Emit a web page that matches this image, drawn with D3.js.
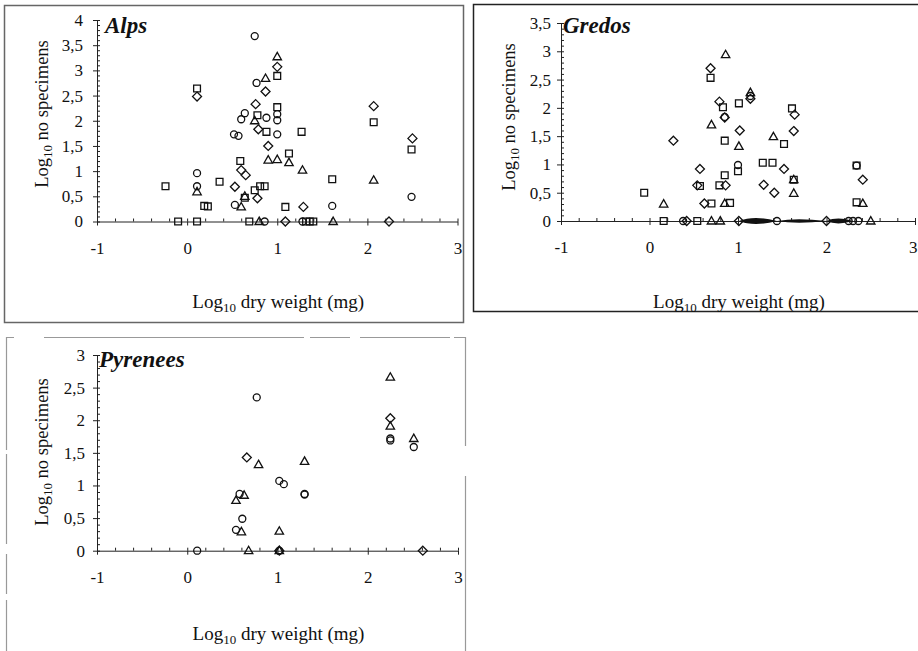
<!DOCTYPE html>
<html>
<head>
<meta charset="utf-8">
<script src="https://cdn.jsdelivr.net/npm/d3@7"></script>
<style>
  body { margin: 0; background: #fff; }
  svg text { font-family: "Liberation Serif", "Times New Roman", Times, serif; fill: #111; }
</style>
</head>
<body>
<svg id="chart" width="918" height="651"></svg>
<script>
// [log10 dry weight, log10 no specimens]
const alpsCircle = [[0.75,3.68],[0.77,2.75],[1.0,2.13],[1.0,2.01],[0.64,2.15],[0.60,2.03],[0.88,2.06],
  [1.0,1.73],[0.52,1.73],[0.57,1.70],[0.53,0.33],[1.61,0.31],[2.49,0.49],[0.11,0.96],[0.11,0.70],
  [0.86,0],[1.28,0]];
const alpsSquare = [[1.0,2.89],[1.0,2.27],[0.78,2.11],[0.88,1.78],[1.27,1.78],[2.07,1.97],[2.49,1.43],
  [0.59,1.20],[1.13,1.35],[1.61,0.84],[0.36,0.79],[0.81,0.70],[0.86,0.70],[0.75,0.62],[0.64,0.47],
  [1.09,0.29],[0.11,2.64],[-0.24,0.70],[0.19,0.31],[0.23,0.30],[-0.10,0],[0.11,0],[0.69,0],
  [1.32,0],[1.36,0],[1.40,0]];
const alpsTriangle = [[1.0,3.27],[0.87,2.84],[0.75,2.0],[0.90,1.22],[1.0,1.23],[1.13,1.17],[1.28,1.02],
  [2.07,0.82],[0.64,0.50],[0.60,0.29],[0.11,0.59],[0.80,0],[1.62,0]];
const alpsDiamond = [[1.0,3.07],[0.87,2.58],[0.76,2.33],[2.07,2.29],[0.79,1.83],[2.50,1.65],[0.90,1.50],
  [0.60,1.02],[0.65,0.92],[0.53,0.69],[0.78,0.46],[1.29,0.29],[0.11,2.48],[1.09,0],[2.24,0]];

const gredosCircle = [[1.0,0.99],[2.34,0.98],[0.85,1.84],[1.14,2.21],[0.38,0],[1.44,0],[2.25,0],[2.30,0],[2.36,0]];
const gredosSquare = [[0.69,2.53],[0.83,2.01],[1.01,2.08],[0.85,1.42],[1.61,1.99],[1.52,1.36],[1.28,1.03],
  [1.39,1.03],[1.63,0.73],[1.0,0.88],[0.85,0.81],[0.79,0.63],[0.57,0.62],[0.70,0.31],[0.91,0.32],
  [2.34,0.98],[2.34,0.33],[-0.06,0.50],[0.16,0],[0.54,0]];
const gredosTriangle = [[0.86,2.94],[1.14,2.27],[0.70,1.70],[1.01,1.32],[1.40,1.49],[1.63,0.73],[1.63,0.49],
  [0.85,0.31],[2.41,0.31],[0.16,0.30],[0.70,0],[0.80,0],[2.50,0]];
const gredosDiamond = [[0.69,2.70],[1.14,2.16],[0.79,2.11],[0.85,1.83],[1.02,1.60],[1.64,1.88],[1.63,1.59],
  [1.52,0.92],[1.29,0.64],[1.41,0.50],[0.57,0.92],[0.54,0.63],[0.86,0.63],[0.62,0.31],[2.41,0.73],
  [0.27,1.42],[0.42,0],[1.01,0],[2.0,0]];
// smudged stretches of the Gredos zero line: [from, to, half thickness px]
const gredosSmudge = [[1.01,1.44,3],[1.44,2.0,1.8],[2.0,2.3,2.4]];

const pyrCircle = [[0.77,2.35],[2.25,1.72],[2.25,1.69],[2.51,1.59],[1.02,1.07],[1.07,1.02],[1.30,0.87],
  [1.30,0.86],[0.58,0.87],[0.61,0.49],[0.54,0.32],[0.11,0],[1.02,0]];
const pyrSquare = [];
const pyrTriangle = [[2.25,2.66],[2.25,1.91],[2.51,1.72],[0.79,1.32],[1.30,1.37],[0.63,0.85],[0.54,0.77],
  [0.60,0.29],[1.02,0.30],[0.68,0],[1.02,0]];
const pyrDiamond = [[2.25,2.03],[0.66,1.43],[2.61,0],[1.02,0]];

const xDomain = [-1, 3];
const xMajor = [-1, 0, 1, 2, 3];

const svg = d3.select("#chart");
const serif = '"Liberation Serif", "Times New Roman", Times, serif';
const fmt = d => String(d).replace(".", ",");

const shapes = {
  circle: "M3.5,0A3.5,3.5 0 1,1 -3.5,0A3.5,3.5 0 1,1 3.5,0Z",
  square: "M-3.4,-3.4H3.4V3.4H-3.4Z",
  triangle: "M0,-4.4L4.2,3H-4.2Z",
  diamond: "M0,-4.5L4.5,0L0,4.5L-4.5,0Z"
};

// panel frames
svg.append("rect").attr("x", 4.5).attr("y", 5.5).attr("width", 459).attr("height", 317)
  .attr("fill", "none").attr("stroke", "#666").attr("stroke-width", 1.5);
svg.append("rect").attr("x", 473.5).attr("y", 4.5).attr("width", 460).attr("height", 307)
  .attr("fill", "none").attr("stroke", "#222").attr("stroke-width", 1.5);
svg.append("path").attr("d", "M6.5,660V337.5H465.5V660")
  .attr("fill", "none").attr("stroke", "#999").attr("stroke-width", 1.2)
  .attr("stroke-dasharray", "60,6,40,10,90,4,120,30,200,0");

function drawPanel(p) {
  const g = svg.append("g");
  const x = d3.scaleLinear().domain(xDomain).range(p.xRange);
  const y = d3.scaleLinear().domain([0, p.yMax]).range(p.yRange);

  const yMajor = d3.range(0, p.yMax * 2 + 1).map(i => i / 2);
  const yMinor = d3.range(0, p.yMax * 10 + 1).map(i => i / 10);
  const xMinor = d3.range(0, 21).map(i => -1 + i * 0.2);

  // x axis: integer ticks below, fifth ticks above
  const gx = g.append("g").attr("transform", `translate(0,${y(0)})`);
  gx.call(d3.axisBottom(x).tickValues(xMajor).tickSizeInner(4).tickSizeOuter(0)
    .tickPadding(16).tickFormat(fmt));
  gx.append("g").call(d3.axisBottom(x).tickValues(xMinor).tickSize(-3).tickFormat(""))
    .select(".domain").remove();
  // the last label of a panel at the page edge sits flush with the edge
  if (p.lastLabelEnd) {
    gx.selectAll(".tick text").filter(d => d === 3)
      .attr("text-anchor", "end").attr("x", p.lastLabelEnd - x(3));
  }

  // y axis: half-unit ticks left, tenth ticks right
  const gy = g.append("g").attr("transform", `translate(${x(-1)},0)`);
  gy.call(d3.axisLeft(y).tickValues(yMajor).tickSizeInner(4).tickSizeOuter(0)
    .tickPadding(p.yPad).tickFormat(fmt));
  gy.append("g").call(d3.axisLeft(y).tickValues(yMinor).tickSize(-3).tickFormat(""))
    .select(".domain").remove();

  g.selectAll("g").attr("font-family", serif).attr("font-size", 17);
  g.selectAll(".domain, .tick line").attr("stroke", "#222").attr("stroke-width", 1);
  g.selectAll(".tick text").style("font-family", serif).style("font-size", "17px").attr("fill", "#111");

  // smudges on the zero line
  g.selectAll("path.smudge").data(p.smudge || []).join("path")
    .attr("class", "smudge")
    .attr("fill", "#111")
    .attr("d", ([a, b, h]) => {
      const x1 = x(a), x2 = x(b), xm = x1 + (x2 - x1) * 0.4, y0 = y(0);
      return `M${x1},${y0}Q${xm},${y0 - h * 2} ${x2},${y0}Q${xm},${y0 + h * 2} ${x1},${y0}Z`;
    });

  // open markers
  p.series.forEach(([shape, data]) => {
    g.selectAll(null).data(data).join("path")
      .attr("d", shapes[shape])
      .attr("transform", d => `translate(${x(d[0])},${y(d[1])})`)
      .attr("fill", "none")
      .attr("stroke", "#111")
      .attr("stroke-width", 1.3);
  });

  // panel name
  g.append("text").attr("x", p.nameAt[0]).attr("y", p.nameAt[1])
    .style("font-family", serif).style("font-size", "23px")
    .attr("font-weight", "bold").attr("font-style", "italic")
    .text(p.name);

  // axis titles
  const xt = g.append("text").attr("x", (x(-1) + x(3)) / 2 + 1).attr("y", p.xTitleY)
    .attr("text-anchor", "middle").style("font-family", serif).style("font-size", "19px");
  xt.append("tspan").text("Log");
  xt.append("tspan").style("font-size", "13px").attr("dy", 4).text("10");
  xt.append("tspan").attr("dy", -4).text(" dry weight (mg)");

  const yt = g.append("text")
    .attr("transform", `translate(${p.yTitleAt[0]},${p.yTitleAt[1]}) rotate(-90)`)
    .attr("text-anchor", "middle").style("font-family", serif).style("font-size", "18.5px");
  yt.append("tspan").text("Log");
  yt.append("tspan").style("font-size", "13px").attr("dy", 4).text("10");
  yt.append("tspan").attr("dy", -4).text(" no specimens");
}

drawPanel({
  name: "Alps", nameAt: [105, 33], yMax: 4,
  xRange: [97, 457.5], yRange: [221.5, 20], yPad: 10,
  xTitleY: 308, yTitleAt: [48, 114],
  series: [["circle", alpsCircle], ["square", alpsSquare], ["triangle", alpsTriangle], ["diamond", alpsDiamond]]
});
drawPanel({
  name: "Gredos", nameAt: [563, 33], yMax: 3.5,
  xRange: [561, 915], yRange: [221, 23], yPad: 6,
  xTitleY: 308, yTitleAt: [515, 117], lastLabelEnd: 917,
  smudge: gredosSmudge,
  series: [["circle", gredosCircle], ["square", gredosSquare], ["triangle", gredosTriangle], ["diamond", gredosDiamond]]
});
drawPanel({
  name: "Pyrenees", nameAt: [99, 367], yMax: 3,
  xRange: [97, 458], yRange: [550.7, 355], yPad: 8,
  xTitleY: 640, yTitleAt: [48, 452],
  series: [["circle", pyrCircle], ["square", pyrSquare], ["triangle", pyrTriangle], ["diamond", pyrDiamond]]
});
</script>
</body>
</html>
